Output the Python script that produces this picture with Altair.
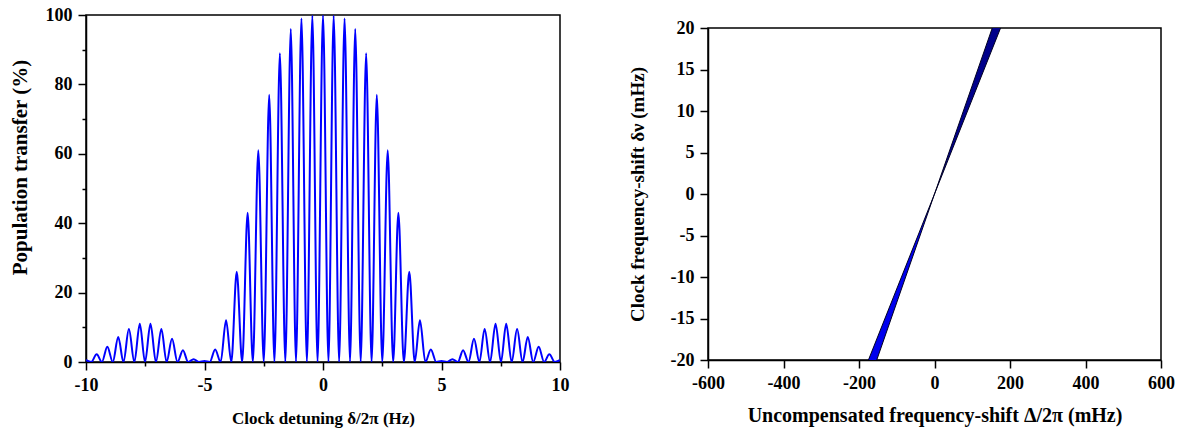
import altair as alt
import pandas as pd

# ---------------- Left panel data ----------------
peak_pos = [0.0, 0.45, 0.91, 1.36, 1.82, 2.27, 2.73, 3.18, 3.64, 4.09, 4.55, 5.00,
            5.46, 5.91, 6.37, 6.82, 7.28, 7.73, 8.19, 8.64, 9.10, 9.55, 10.01]
peak_val = [100, 99.8, 99, 96, 89, 77, 61, 43, 26, 12, 3.6, 0.3,
            0.8, 3.4, 6.7, 9.5, 11, 11, 9.5, 7.2, 4.4, 2.2, 0.5]
trough_pos = [0.23, 0.68, 1.14, 1.59, 2.05, 2.50, 2.96, 3.41, 3.87, 4.32, 4.78, 5.23,
              5.69, 6.14, 6.60, 7.05, 7.51, 7.96, 8.42, 8.87, 9.33, 9.78, 10.24]
trough_val = [0, 0, 0, 0, 0, 0, 0, 0, 0, 0, 0, 0,
              0, 0, 0, 0, 0, 0, 0, 0, 0, 0, 0]

left_x_ticks = [-10, -7.5, -5, -2.5, 0, 2.5, 5, 7.5, 10]
left_y_ticks = [0, 10, 20, 30, 40, 50, 60, 70, 80, 90, 100]

# ---------------- Right panel data ----------------
band_y = [-20, 0, 20]
edge_a_x = [-175, 0, 175]
edge_b_x = [-153, 0, 153]
right_x_ticks = [-600, -500, -400, -300, -200, -100, 0, 100, 200, 300, 400, 500, 600]
right_y_ticks = [-20, -17.5, -15, -12.5, -10, -7.5, -5, -2.5, 0, 2.5, 5, 7.5, 10, 12.5, 15, 17.5, 20]

# build tables
xs, ys = [], []
for p, v in zip(peak_pos, peak_val):
    xs.append(p); ys.append(v)
    if p != 0:
        xs.append(-p); ys.append(v)
for p, v in zip(trough_pos, trough_val):
    xs.append(p); ys.append(v)
    xs.append(-p); ys.append(v)
left_df = pd.DataFrame({"x": xs, "y": ys}).sort_values("x")

band_df = pd.DataFrame({"y": band_y, "a": edge_a_x, "b": edge_b_x})
lower_df = band_df[band_df["y"] <= 0]
upper_df = band_df[band_df["y"] >= 0]

FONT = "Liberation Serif"


def ax(values, label_step, title, title_size, title_pad, **kw):
    return alt.Axis(
        values=values,
        labelExpr=f"datum.value % {label_step} === 0 ? '' + datum.value : ''",
        tickSize={"condition": {"test": f"datum.value % {label_step} !== 0", "value": 4}, "value": 8},
        title=title,
        titleFontSize=title_size,
        titlePadding=title_pad,
        grid=False,
        labelFlush=False,
        labelOverlap=False,
        **kw,
    )


left = alt.Chart(left_df).mark_line(
    color="#0000FF", strokeWidth=2, interpolate="monotone", clip=True
).encode(
    x=alt.X("x:Q", scale=alt.Scale(domain=[-10, 10], nice=False, zero=False),
            axis=ax(left_x_ticks, 5, "Clock detuning δ/2π  (Hz)", 17, 16)),
    y=alt.Y("y:Q", scale=alt.Scale(domain=[0, 100], nice=False),
            axis=ax(left_y_ticks, 20, "Population transfer (%)", 21, 15, titleY=152)),
).properties(width=474, height=347)

xr = alt.Scale(domain=[-600, 600], nice=False, zero=False)
yr = alt.Scale(domain=[-20, 20], nice=False, zero=False)
xaxis_r = ax(right_x_ticks, 200, "Uncompensated frequency-shift Δ/2π  (mHz)", 20, 13)
yaxis_r = ax(right_y_ticks, 5, "Clock frequency-shift δν (mHz)", 19, 23)

area_low = alt.Chart(lower_df).mark_area(orient="horizontal", color="#0000EE", clip=True).encode(
    y=alt.Y("y:Q", scale=yr, axis=yaxis_r),
    x=alt.X("a:Q", scale=xr, axis=xaxis_r),
    x2="b:Q",
)
area_up = alt.Chart(upper_df).mark_area(orient="horizontal", color="#00008B", clip=True).encode(
    y=alt.Y("y:Q", scale=yr),
    x=alt.X("a:Q", scale=xr),
    x2="b:Q",
)
edge_a = alt.Chart(band_df).mark_line(color="#000022", strokeWidth=1, clip=True).encode(
    y=alt.Y("y:Q", scale=yr), x=alt.X("a:Q", scale=xr), order="y:Q"
)
edge_b = alt.Chart(band_df).mark_line(color="#000022", strokeWidth=1, clip=True).encode(
    y=alt.Y("y:Q", scale=yr), x=alt.X("b:Q", scale=xr), order="y:Q"
)

right = alt.layer(area_low, area_up, edge_a, edge_b).properties(width=453, height=332)

spacer = alt.Chart(pd.DataFrame({"v": [0]})).mark_point(opacity=0).encode(
    x=alt.value(0), y=alt.value(0)
).properties(width=453, height=3, view=alt.ViewBackground(strokeOpacity=0))

right_col = alt.vconcat(spacer, right, spacing=0)

chart = alt.hconcat(left, right_col, spacing=57).properties(
    padding={"left": 8, "top": 5, "right": 5, "bottom": 5},
    background="white",
).configure_view(
    stroke="black", strokeWidth=1.5
).configure_axis(
    domainColor="black", domainWidth=1.5, tickColor="black", tickWidth=1.5,
    labelFont=FONT, labelFontWeight="bold", labelFontSize=18, labelColor="black",
    titleFont=FONT, titleFontWeight="bold", titleColor="black", labelPadding=6,
)

chart.save("out.html", embed_options={"renderer": "svg", "actions": False})
